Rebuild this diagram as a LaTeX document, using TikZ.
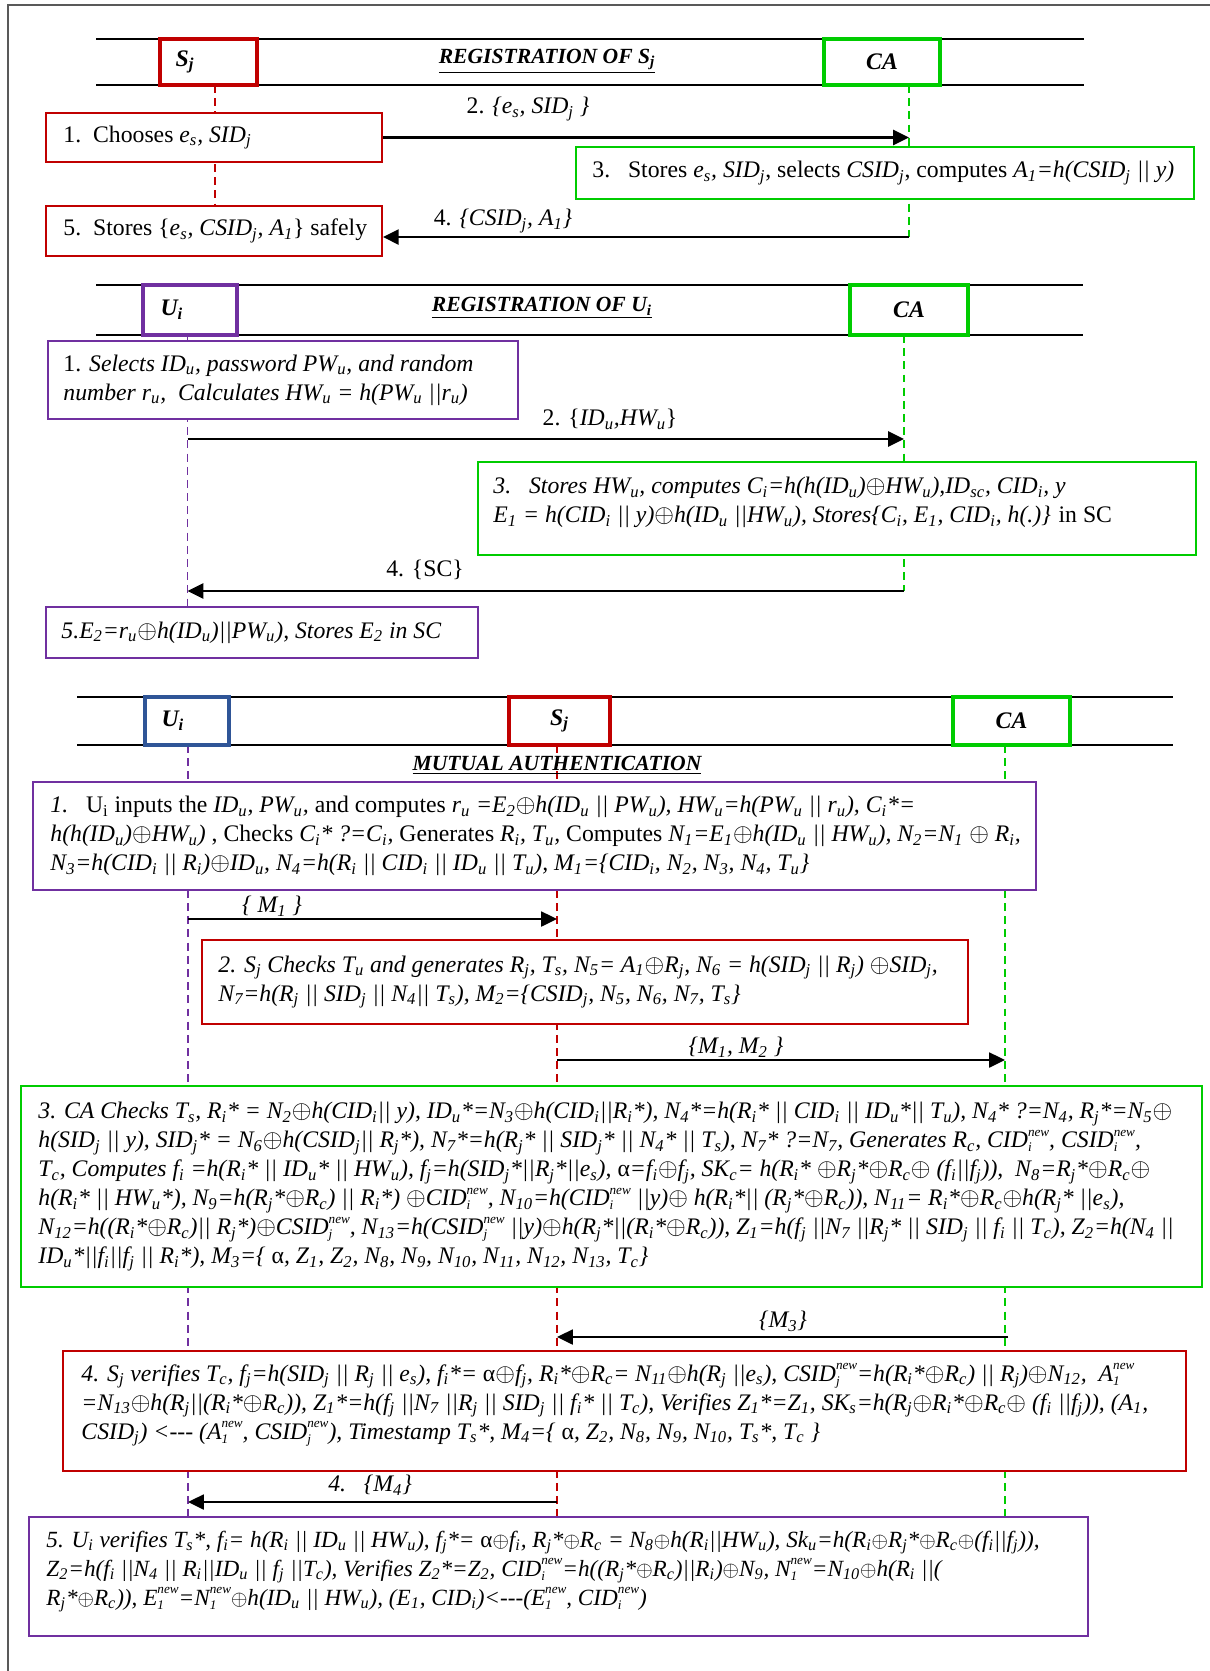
\documentclass[tikz,border=0pt]{standalone}
\usepackage{fontspec}
\setmainfont{Liberation Serif}
\usepackage{tikz}
\usetikzlibrary{arrows.meta}
\usetikzlibrary{positioning, fit}
\definecolor{sred}{RGB}{192,0,0}
\definecolor{cgreen}{RGB}{0,204,0}
\definecolor{upurp}{RGB}{112,48,160}
\definecolor{ublue}{RGB}{47,85,151}
\newcommand{\dn}[1]{\textsubscript{#1}}
\newcommand{\dnup}[2]{\rlap{\raisebox{-2.2pt}{\fontsize{7.5}{7.5}\selectfont #1}}\raisebox{6.5pt}{\fontsize{7.5}{7.5}\selectfont #2}}
\newcommand{\xo}{\ensuremath{\oplus}}

\begin{document}
\begin{tikzpicture}[x=0.02cm, y=-0.02cm,
	cbox/.style={draw=#1, fill=white, line width=1pt, inner sep=0pt},
	hbox/.style={draw=#1, fill=white, line width=2pt, inner sep=0pt},
	txt/.style={inner sep=0pt, align=left, font=\fontsize{13.5}{16.5}\selectfont},
	itx/.style={inner sep=0pt, align=left, font=\fontsize{13.5}{16.5}\selectfont\itshape},
	lbl/.style={inner sep=0pt, font=\fontsize{13.5}{16}\selectfont\bfseries\itshape},
	ttl/.style={inner sep=0pt, font=\fontsize{12.3}{15}\selectfont\bfseries\itshape},
	life/.style={dash pattern=on 4.5pt off 3pt, line width=1pt},
	msg/.style={-{Triangle[length=9pt,width=8.5pt]}, line width=1.5pt},
	msgb/.style={-{Triangle[length=9pt,width=8.5pt]}, line width=1.2pt}]
	\useasboundingbox (0,0) rectangle (1210,1671);
	\draw[black!65, line width=1pt] (8,1671) -- (8,5) -- (1210,5);

	% registration of S_j
	\coordinate (s1a) at (215,85);
	\coordinate (s1b) at (215,206);
	\coordinate (ca1a) at (909,85);
	\coordinate (ca1b) at (909,237);
	\draw[line width=1.2pt] (96,39) -- (1084,39);
	\draw[line width=1.2pt] (96,85) -- (1084,85);
	\draw[life, sred] (s1a) -- (s1b);
	\draw[life, cgreen] (ca1a) -- (ca1b);
	\node[hbox=sred, fit={(160,39) (257,85)}] (s1) {};
	\node[lbl, right=0.34cm of s1.west] (s1t) {S\dn{j}};
	\node[hbox=cgreen, fit={(824,39) (940,85)}] (ca1) {};
	\node[lbl] (ca1t) at (ca1) {CA};
	\node[ttl] (t1) at (547,61) {\underline{REGISTRATION OF S\dn{j}}};
	\node[cbox=sred, fit={(46,113) (382,162)}] (r1) {};
	\node[txt, right=0.36cm of r1.west] (r1t) {1.\ \ Chooses \textit{e\dn{s}, SID\dn{j}}};
	\node[cbox=cgreen, fit={(576,147) (1194,199)}] (g3) {};
	\node[txt, right=0.34cm of g3.west] (g3t) {3.\ \ \ Stores \textit{e\dn{s}, SID\dn{j}}, selects \textit{CSID\dn{j}}, computes \textit{A\dn{1}=h(CSID\dn{j} || y)}};
	\node[cbox=sred, fit={(46,206) (382,256)}] (r5) {};
	\node[txt, right=0.36cm of r5.west] (r5t) {5.\ \ Stores \{\textit{e\dn{s}, CSID\dn{j}, A\dn{1}}\} safely};
	\draw[msg] (r1.east) to (r1.east -| ca1a);
	\node[txt] (l2) at (528,109) {2. \textit{\{e\dn{s}, SID\dn{j} \}}};
	\draw[msg] (ca1b) to (ca1b -| r5.east);
	\node[txt] (l4) at (503,221) {4. \textit{\{CSID\dn{j}, A\dn{1}\}}};

	% registration of U_i
	\coordinate (u2a) at (187.5,335);
	\coordinate (u2b) at (187.5,607);
	\coordinate (ca2a) at (904,335);
	\coordinate (ca2b) at (904,591);
	\draw[line width=1.2pt] (96,285) -- (1083,285);
	\draw[line width=1.2pt] (96,335) -- (1083,335);
	\draw[life, upurp] (u2a) -- (u2b);
	\draw[life, cgreen] (ca2a) -- (ca2b);
	\node[hbox=upurp, fit={(143,285) (237,335)}] (u2) {};
	\node[lbl, right=0.38cm of u2.west] (u2t) {U\dn{i}};
	\node[hbox=cgreen, fit={(850,285) (968,335)}] (ca2) {};
	\node[lbl] (ca2t) at (ca2) {CA};
	\node[ttl] (t2) at (542,308) {\underline{REGISTRATION OF U\dn{i}}};
	\node[cbox=upurp, fit={(48,341) (518,419)}] (p1) {};
	\node[itx, right=0.32cm of p1.west] (p1t) {{\upshape 1.} Selects ID\dn{u}, password PW\dn{u}, and random\\
		number r\dn{u},\ \ Calculates HW\dn{u} = h(PW\dn{u} ||r\dn{u})};
	\node[cbox=cgreen, fit={(478,462) (1196,555)}] (g6) {};
	\node[itx, right=0.32cm of g6.west, yshift=0.12cm] (g6t) {3.\ \ \ Stores HW\dn{u}, computes C\dn{i}=h(h(ID\dn{u})\xo HW\dn{u}),ID\dn{sc}, CID\dn{i}, y\\
		E\dn{1} = h(CID\dn{i} || y)\xo h(ID\dn{u} ||HW\dn{u}), Stores\{C\dn{i}, E\dn{1}, CID\dn{i}, h(.)\} {\upshape in SC}};
	\node[cbox=upurp, fit={(46,607) (478,658)}] (p5) {};
	\node[itx, right=0.32cm of p5.west] (p5t) {5.E\dn{2}=r\dn{u}\xo h(ID\dn{u})||PW\dn{u}), Stores E\dn{2} in SC};
	\coordinate (q5) at (187.5,439);
	\draw[msg] (q5) to (q5 -| ca2a);
	\node[txt] (l5) at (610,419) {2. \{\textit{ID\dn{u},HW\dn{u}}\}};
	\draw[msg] (ca2b) to (ca2b -| u2a);
	\node[txt] (l6) at (425,570) {4. \{SC\}};

	% mutual authentication
	\coordinate (u3a) at (188,745);
	\coordinate (u3b) at (188,1517);
	\coordinate (s3a) at (557,745);
	\coordinate (s3b) at (557,1517);
	\coordinate (c3a) at (1005,745);
	\coordinate (c3b) at (1005,1517);
	\draw[line width=1.2pt] (77,697) -- (1173,697);
	\draw[line width=1.2pt] (77,745) -- (1173,745);
	\draw[life, upurp] (u3a) -- (u3b);
	\draw[life, sred] (s3a) -- (s3b);
	\draw[life, cgreen] (c3a) -- (c3b);
	\node[hbox=ublue, fit={(145,697) (229,745)}] (u3) {};
	\node[lbl, right=0.36cm of u3.west] (u3t) {U\dn{i}};
	\node[hbox=sred, fit={(509,697) (610,745)}] (s3) {};
	\node[lbl] (s3t) at (s3) {S\dn{j}};
	\node[hbox=cgreen, fit={(953,697) (1070,745)}] (c3) {};
	\node[lbl] (c3t) at (c3) {CA};
	\node[ttl] (t3) at (557,765) {\underline{MUTUAL AUTHENTICATION}};

	\node[cbox=upurp, fit={(33,782) (1036,890)}] (m1) {};
	\node[txt, right=0.36cm of m1.west] (m1t) {\textit{1.}\ \ \ U\dn{i} inputs the \textit{ID\dn{u}, PW\dn{u},} and computes \textit{r\dn{u} =E\dn{2}\xo h(ID\dn{u} || PW\dn{u}), HW\dn{u}=h(PW\dn{u} || r\dn{u}), C\dn{i}*=}\\
		\textit{h(h(ID\dn{u})\xo HW\dn{u})} , Checks \textit{C\dn{i}* ?=C\dn{i},} Generates \textit{R\dn{i}, T\dn{u},} Computes \textit{N\dn{1}=E\dn{1}\xo h(ID\dn{u} || HW\dn{u}), N\dn{2}=N\dn{1} \xo\ R\dn{i},}\\
		\textit{N\dn{3}=h(CID\dn{i} || R\dn{i})\xo ID\dn{u}, N\dn{4}=h(R\dn{i} || CID\dn{i} || ID\dn{u} || T\dn{u}), M\dn{1}=\{CID\dn{i}, N\dn{2}, N\dn{3}, N\dn{4}, T\dn{u}\}}};
	\node[cbox=sred, fit={(202,940) (968,1024)}] (m2) {};
	\node[itx, right=0.34cm of m2.west] (m2t) {2. S\dn{j} Checks T\dn{u} and generates R\dn{j}, T\dn{s}, N\dn{5}= A\dn{1}\xo R\dn{j}, N\dn{6} = h(SID\dn{j} || R\dn{j}) \xo SID\dn{j},\\
		N\dn{7}=h(R\dn{j} || SID\dn{j} || N\dn{4}|| T\dn{s}), M\dn{2}=\{CSID\dn{j}, N\dn{5}, N\dn{6}, N\dn{7}, T\dn{s}\}};
	\node[cbox=cgreen, fit={(21,1086) (1202,1287)}] (m3) {};
	\node[itx, right=0.36cm of m3.west] (m3t) {3. CA Checks T\dn{s}, R\dn{i}* = N\dn{2}\xo h(CID\dn{i}|| y), ID\dn{u}*=N\dn{3}\xo h(CID\dn{i}||R\dn{i}*), N\dn{4}*=h(R\dn{i}* || CID\dn{i} || ID\dn{u}*|| T\dn{u}), N\dn{4}* ?=N\dn{4}, R\dn{j}*=N\dn{5}\xo\\
		h(SID\dn{j} || y), SID\dn{j}* = N\dn{6}\xo h(CSID\dn{j}|| R\dn{j}*), N\dn{7}*=h(R\dn{j}* || SID\dn{j}* || N\dn{4}* || T\dn{s}), N\dn{7}* ?=N\dn{7}, Generates R\dn{c}, CID\dnup{i}{new}, CSID\dnup{i}{new},\\
		T\dn{c}, Computes f\dn{i} =h(R\dn{i}* || ID\dn{u}* || HW\dn{u}), f\dn{j}=h(SID\dn{j}*||R\dn{j}*||e\dn{s}), {\upshape α}=f\dn{i}\xo f\dn{j}, SK\dn{c}= h(R\dn{i}* \xo R\dn{j}*\xo R\dn{c}\xo\ (f\dn{i}||f\dn{j})),\ \ N\dn{8}=R\dn{j}*\xo R\dn{c}\xo\\
		h(R\dn{i}* || HW\dn{u}*), N\dn{9}=h(R\dn{j}*\xo R\dn{c}) || R\dn{i}*) \xo CID\dnup{i}{new}, N\dn{10}=h(CID\dnup{i}{new} ||y)\xo\ h(R\dn{i}*|| (R\dn{j}*\xo R\dn{c})), N\dn{11}= R\dn{i}*\xo R\dn{c}\xo h(R\dn{j}* ||e\dn{s}),\\
		N\dn{12}=h((R\dn{i}*\xo R\dn{c})|| R\dn{j}*)\xo CSID\dnup{j}{new}, N\dn{13}=h(CSID\dnup{j}{new} ||y)\xo h(R\dn{j}*||(R\dn{i}*\xo R\dn{c})), Z\dn{1}=h(f\dn{j} ||N\dn{7} ||R\dn{j}* || SID\dn{j} || f\dn{i} || T\dn{c}), Z\dn{2}=h(N\dn{4} ||\\
		ID\dn{u}*||f\dn{i}||f\dn{j} || R\dn{i}*), M\dn{3}=\{ {\upshape α}, Z\dn{1}, Z\dn{2}, N\dn{8}, N\dn{9}, N\dn{10}, N\dn{11}, N\dn{12}, N\dn{13}, T\dn{c}\}};
	\node[cbox=sred, fit={(63,1351) (1186,1471)}] (m4) {};
	\node[itx, right=0.38cm of m4.west, yshift=0.12cm] (m4t) {4. S\dn{j} verifies T\dn{c}, f\dn{j}=h(SID\dn{j} || R\dn{j} || e\dn{s}), f\dn{i}*= {\upshape α}\xo f\dn{j}, R\dn{i}*\xo R\dn{c}= N\dn{11}\xo h(R\dn{j} ||e\dn{s}), CSID\dnup{j}{new}=h(R\dn{i}*\xo R\dn{c}) || R\dn{j})\xo N\dn{12},\ \ A\dnup{1}{new}\\
		=N\dn{13}\xo h(R\dn{j}||(R\dn{i}*\xo R\dn{c})), Z\dn{1}*=h(f\dn{j} ||N\dn{7} ||R\dn{j} || SID\dn{j} || f\dn{i}* || T\dn{c}), Verifies Z\dn{1}*=Z\dn{1}, SK\dn{s}=h(R\dn{j}\xo R\dn{i}*\xo R\dn{c}\xo\ (f\dn{i} ||f\dn{j})), (A\dn{1},\\
		CSID\dn{j}) <-{}-{}- (A\dnup{1}{new}, CSID\dnup{j}{new}), Timestamp T\dn{s}*, M\dn{4}=\{ {\upshape α}, Z\dn{2}, N\dn{8}, N\dn{9}, N\dn{10}, T\dn{s}*, T\dn{c} \}};
	\node[cbox=upurp, fit={(29,1517) (1088,1636)}] (m5) {};
	\node[itx, font=\fontsize{13.2}{16.5}\selectfont\itshape, right=0.36cm of m5.west, yshift=0.1cm] (m5t) {5. U\dn{i} verifies T\dn{s}*, f\dn{i}= h(R\dn{i} || ID\dn{u} || HW\dn{u}), f\dn{j}*= {\upshape α}\xo f\dn{i}, R\dn{j}*\xo R\dn{c} = N\dn{8}\xo h(R\dn{i}||HW\dn{u}), Sk\dn{u}=h(R\dn{i}\xo R\dn{j}*\xo R\dn{c}\xo(f\dn{i}||f\dn{j})),\\
		Z\dn{2}=h(f\dn{i} ||N\dn{4} || R\dn{i}||ID\dn{u} || f\dn{j} ||T\dn{c}), Verifies Z\dn{2}*=Z\dn{2}, CID\dnup{i}{new}=h((R\dn{j}*\xo R\dn{c})||R\dn{i})\xo N\dn{9}, N\dnup{1}{new}=N\dn{10}\xo h(R\dn{i} ||(\\
		R\dn{j}*\xo R\dn{c})), E\dnup{1}{new}=N\dnup{1}{new}\xo h(ID\dn{u} || HW\dn{u}), (E\dn{1}, CID\dn{i})<-{}-{}-(E\dnup{1}{new}, CID\dnup{i}{new})};

	\coordinate (q1) at (188,919);
	\draw[msgb] (q1) to (q1 -| s3a);
	\node[itx] (l7) at (272,906) {\{ M\dn{1} \}};
	\coordinate (q2) at (557,1060);
	\draw[msgb] (q2) to (q2 -| c3a);
	\node[itx] (l8) at (736,1047) {\{M\dn{1}, M\dn{2} \}};
	\coordinate (q3) at (1008,1337);
	\draw[msgb] (q3) to (q3 -| s3a);
	\node[itx] (l9) at (783,1321) {\{M\dn{3}\}};
	\coordinate (q4) at (557,1502);
	\draw[msgb] (q4) to (q4 -| u3a);
	\node[itx] (l10) at (370,1485) {4.\ \ \ \{M\dn{4}\}};
\end{tikzpicture}
\end{document}
